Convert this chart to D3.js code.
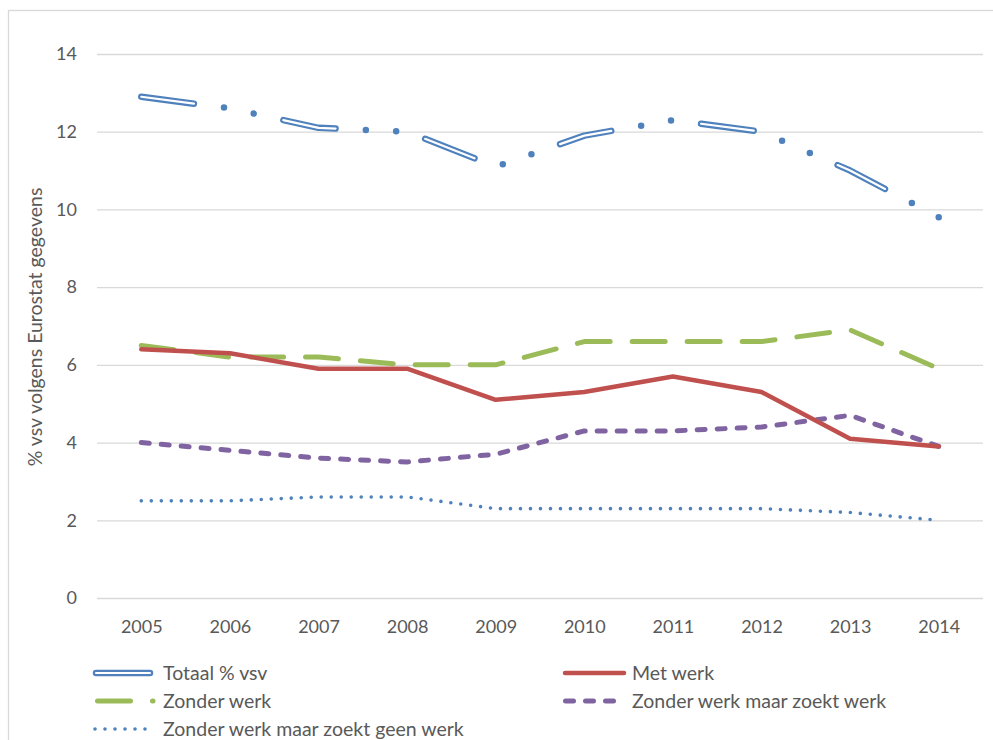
<!DOCTYPE html>
<html>
<head>
<meta charset="utf-8">
<script src="https://cdn.jsdelivr.net/npm/d3@7"></script>
<style>
  html, body { margin: 0; padding: 0; background: #fff; }
  svg { display: block; }
  text { font-family: Lato, "Open Sans", sans-serif; fill: #595959; }
</style>
</head>
<body>
<svg id="chart" width="993" height="740"></svg>
<script>
// ---- data ----
const years = ["2005","2006","2007","2008","2009","2010","2011","2012","2013","2014"];
const totaal = [12.9, 12.6, 12.1, 12.0, 11.1, 11.9, 12.3, 12.0, 11.0, 9.8];
const metWerk = [6.4, 6.3, 5.9, 5.9, 5.1, 5.3, 5.7, 5.3, 4.1, 3.9];
const zonderWerk = [6.5, 6.2, 6.2, 6.0, 6.0, 6.6, 6.6, 6.6, 6.9, 5.9];
const zoektWerk = [4.0, 3.8, 3.6, 3.5, 3.7, 4.3, 4.3, 4.4, 4.7, 3.9];
const zoektGeenWerk = [2.5, 2.5, 2.6, 2.6, 2.3, 2.3, 2.3, 2.3, 2.2, 2.0];
const yTicks = [0, 2, 4, 6, 8, 10, 12, 14];
const seriesNames = ["Totaal % vsv", "Met werk", "Zonder werk", "Zonder werk maar zoekt werk", "Zonder werk maar zoekt geen werk"];
const yLabel = "% vsv volgens Eurostat gegevens";

// ---- layout ----
const W = 993, H = 740;
const plot = { left: 97, right: 983, top: 54, bottom: 598 };
const TICK_FONT = 18;
const TEXT_FONT = 19.5;

const svg = d3.select("#chart");

// outer chart border
svg.append("rect")
  .attr("x", 8.5).attr("y", 10.5)
  .attr("width", W).attr("height", H)
  .attr("fill", "none").attr("stroke", "#d9d9d9").attr("stroke-width", 1.3);

const x = d3.scalePoint().domain(years).range([plot.left, plot.right]).padding(0.5);
const y = d3.scaleLinear().domain([0, 14]).range([plot.bottom, plot.top]);

// y axis with gridlines
const gy = svg.append("g")
  .attr("transform", `translate(${plot.left},0)`)
  .call(d3.axisLeft(y).tickValues(yTicks).tickSize(-(plot.right - plot.left)).tickPadding(20).tickFormat(d3.format("d")));
gy.select(".domain").remove();
gy.selectAll(".tick line").attr("stroke", "#d9d9d9").attr("stroke-width", 1.3);
gy.selectAll(".tick text").attr("font-size", TICK_FONT).attr("fill", "#595959")
  .style("font-family", "Lato, 'Open Sans', sans-serif");

// x axis
const gx = svg.append("g")
  .attr("transform", `translate(0,${plot.bottom})`)
  .call(d3.axisBottom(x).tickSize(0).tickPadding(22));
gx.select(".domain").remove();
gx.selectAll(".tick text").attr("font-size", TICK_FONT).attr("fill", "#595959")
  .style("font-family", "Lato, 'Open Sans', sans-serif");

// y label
svg.append("text")
  .attr("transform", `translate(42,327) rotate(-90)`)
  .attr("text-anchor", "middle")
  .attr("font-size", TEXT_FONT)
  .text(yLabel);

// ---- series ----
const line = d3.line().x((d, i) => x(years[i])).y(d => y(d));

const BLUE = "#4f81bd", RED = "#c0504d", GREEN = "#9bbb59", PURPLE = "#8064a2";

// long dash - dot - dot pattern pieces for the "Totaal" line
const LDD = { dash: 53, gap: 30.3 };

const styles = [
  { data: totaal, kind: "double", color: BLUE, width: 6.5 },
  { data: metWerk, kind: "single", color: RED, width: 4.5, dash: null },
  { data: zonderWerk, kind: "single", color: GREEN, width: 5, dash: "33 22" },
  { data: zoektWerk, kind: "single", color: PURPLE, width: 5, dash: "8 12" },
  { data: zoektGeenWerk, kind: "single", color: BLUE, width: 3.6, dash: "0 10" }
];

function lddDash(f) {
  const d = LDD.dash * f, g = LDD.gap * f;
  return { outer: `${d} ${g} 0 ${g} 0 ${g}`, inner: `${d} ${3 * g}` };
}

const order = [4, 3, 2, 1, 0];
order.forEach(k => {
  const s = styles[k];
  const p = svg.append("path")
    .attr("d", line(s.data))
    .attr("fill", "none")
    .attr("stroke", s.color)
    .attr("stroke-width", s.width)
    .attr("stroke-linecap", "round")
    .attr("stroke-linejoin", "round");
  if (s.kind === "double") {
    // fit pattern so that the line ends on a dot, as in the original
    const L = p.node().getTotalLength();
    const period = LDD.dash + 3 * LDD.gap;
    const lastDot = LDD.dash + 2 * LDD.gap;
    const n = Math.round((L - lastDot) / period);
    const f = L / (n * period + lastDot);
    const dd = lddDash(f);
    p.attr("stroke-dasharray", dd.outer);
    svg.append("path")
      .attr("d", line(s.data))
      .attr("fill", "none")
      .attr("stroke", "#fff")
      .attr("stroke-width", 2.2)
      .attr("stroke-linecap", "round")
      .attr("stroke-linejoin", "round")
      .attr("stroke-dasharray", dd.inner);
  } else if (s.dash) {
    p.attr("stroke-dasharray", s.dash);
  }
});

// ---- legend ----
const legendPos = [
  { x0: 96, x1: 150, tx: 163, y: 673 },
  { x0: 565, x1: 624, tx: 632, y: 673 },
  { x0: 97.5, x1: 153, tx: 163, y: 701 },
  { x0: 565.5, x1: 625, tx: 632, y: 701 },
  { x0: 95, x1: 150, tx: 163, y: 729 }
];
styles.forEach((s, k) => {
  const lp = legendPos[k];
  const seg = svg.append("line")
    .attr("x1", lp.x0).attr("x2", lp.x1).attr("y1", lp.y).attr("y2", lp.y)
    .attr("stroke", s.color).attr("stroke-width", s.width)
    .attr("stroke-linecap", "round");
  if (s.dash) seg.attr("stroke-dasharray", s.dash);
  if (s.kind === "double") {
    svg.append("line")
      .attr("x1", lp.x0).attr("x2", lp.x1).attr("y1", lp.y).attr("y2", lp.y)
      .attr("stroke", "#fff").attr("stroke-width", 2.2)
      .attr("stroke-linecap", "round");
  }
  svg.append("text")
    .attr("x", lp.tx).attr("y", lp.y)
    .attr("dy", "0.35em")
    .attr("font-size", TEXT_FONT)
    .text(seriesNames[k]);
});
</script>
</body>
</html>
